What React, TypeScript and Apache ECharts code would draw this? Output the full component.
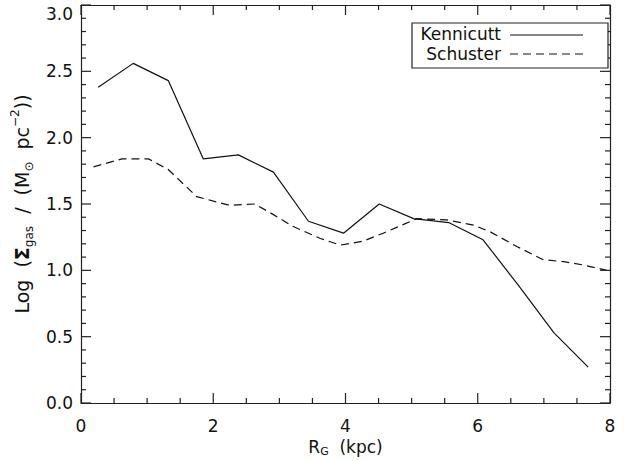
import React, { useEffect, useRef } from "react";
import * as echarts from "echarts";

const kennicuttX = [0.26, 0.79, 1.32, 1.85, 2.38, 2.91, 3.44, 3.97, 4.51, 5.03, 5.56, 6.08, 6.61, 7.15, 7.67];
const kennicuttY = [2.38, 2.56, 2.43, 1.84, 1.87, 1.74, 1.37, 1.28, 1.5, 1.39, 1.36, 1.23, 0.89, 0.53, 0.27];

const schusterX = [0.19, 0.62, 1.02, 1.32, 1.75, 2.25, 2.63, 2.91, 3.21, 3.62, 3.92, 4.27, 4.57, 5.08, 5.53, 5.94, 6.19, 6.59, 6.99, 7.3, 7.6, 7.95];
const schusterY = [1.78, 1.84, 1.84, 1.76, 1.555, 1.49, 1.5, 1.42, 1.33, 1.24, 1.19, 1.22, 1.28, 1.39, 1.38, 1.34, 1.29, 1.18, 1.08, 1.065, 1.04, 1.0];

const seriesNames = ["Kennicutt", "Schuster"];
const xTicks = [0, 2, 4, 6, 8];
const yTicks = [0, 0.5, 1, 1.5, 2, 2.5, 3];
const xMinorStep = 0.5;
const yMinorStep = 0.1;

const FONT = "DejaVu Sans";
const AX = "#222";

// frame tick marks: [value, kind] (0 = x major, 1 = x minor, 2 = y major, 3 = y minor)
function buildTickMarks() {
  const out: number[][] = [];
  const x0 = xTicks[0], x1 = xTicks[xTicks.length - 1];
  const y0 = yTicks[0], y1 = yTicks[yTicks.length - 1];
  const nx = Math.round((x1 - x0) / xMinorStep);
  for (let i = 0; i <= nx; i++) {
    const v = +(x0 + i * xMinorStep).toFixed(4);
    out.push([v, xTicks.includes(v) ? 0 : 1]);
  }
  const ny = Math.round((y1 - y0) / yMinorStep);
  for (let i = 0; i <= ny; i++) {
    const v = +(y0 + i * yMinorStep).toFixed(4);
    out.push([v, yTicks.some((t) => Math.abs(t - v) < 1e-6) ? 2 : 3]);
  }
  return out;
}

export default function App() {
  const ref = useRef<HTMLDivElement>(null);
  useEffect(() => {
    if (!ref.current) return;
    const chart = echarts.init(ref.current, null, { renderer: "svg" });
    const xMin = xTicks[0], xMax = xTicks[xTicks.length - 1];
    const yMin = yTicks[0], yMax = yTicks[yTicks.length - 1];
    const frame = {
      axisLine: { show: true, onZero: false, lineStyle: { color: AX, width: 1.2 } },
      splitLine: { show: false },
      minorSplitLine: { show: false },
      axisTick: { show: false },
      minorTick: { show: false },
    };
    const tickStyle = { stroke: AX, lineWidth: 1.2, fill: "none" };
    const option: any = {
      animation: false,
      backgroundColor: "#fff",
      grid: { left: 81, top: 5, right: 26, bottom: 58, outerBoundsMode: "none", containLabel: false },
      xAxis: [
        {
          type: "value",
          position: "bottom",
          min: xMin,
          max: xMax,
          interval: 2,
          ...frame,
          axisLabel: { fontFamily: FONT, fontSize: 17, color: "#111", margin: 14 },
          name: "{a|R}{sub|G}{a|  (kpc)}",
          nameLocation: "middle",
          nameGap: 33,
          nameTextStyle: {
            rich: {
              a: { fontFamily: FONT, fontSize: 17, color: "#111", lineHeight: 20, verticalAlign: "middle" },
              sub: { fontFamily: FONT, fontSize: 11, color: "#111", lineHeight: 20, verticalAlign: "bottom" },
            },
          },
        },
        {
          type: "value",
          position: "top",
          min: xMin,
          max: xMax,
          interval: 2,
          ...frame,
          axisLabel: { show: false },
        },
      ],
      yAxis: [
        {
          type: "value",
          position: "left",
          min: yMin,
          max: yMax,
          interval: 0.5,
          ...frame,
          axisLabel: {
            fontFamily: FONT,
            fontSize: 17,
            color: "#111",
            margin: 8,
            verticalAlignMaxLabel: "top",
            formatter: (v: number) => v.toFixed(1),
          },
          name: "{a|Log  (}{b|Σ}{sub|gas}{a|  /  (M}{sub|⊙}{a|  pc}{sup|−2}{a|))}",
          nameLocation: "middle",
          nameRotate: 90,
          nameGap: 30,
          nameTextStyle: {
            rich: {
              a: { fontFamily: FONT, fontSize: 19, color: "#111", lineHeight: 26, verticalAlign: "middle" },
              b: { fontFamily: FONT, fontSize: 19, fontWeight: "bold", color: "#111", lineHeight: 26, verticalAlign: "middle" },
              sub: { fontFamily: FONT, fontSize: 12, color: "#111", lineHeight: 26, verticalAlign: "bottom" },
              sup: { fontFamily: FONT, fontSize: 12, color: "#111", lineHeight: 26, verticalAlign: "top" },
            },
          },
        },
        {
          type: "value",
          position: "right",
          min: yMin,
          max: yMax,
          interval: 0.5,
          ...frame,
          axisLabel: { show: false },
        },
      ],
      series: [
        {
          name: seriesNames[0],
          type: "line",
          xAxisIndex: 0,
          yAxisIndex: 0,
          data: kennicuttX.map((x, i) => [x, kennicuttY[i]]),
          showSymbol: false,
          symbol: "none",
          lineStyle: { color: "#111", width: 1.2, type: "solid" },
        },
        {
          name: seriesNames[1],
          type: "line",
          xAxisIndex: 0,
          yAxisIndex: 0,
          data: schusterX.map((x, i) => [x, schusterY[i]]),
          showSymbol: false,
          symbol: "none",
          lineStyle: { color: "#111", width: 1.2, type: [8, 5] },
        },
        {
          name: "ticks",
          type: "custom",
          coordinateSystem: "cartesian2d",
          xAxisIndex: 0,
          yAxisIndex: 0,
          silent: true,
          clip: false,
          z: 5,
          data: buildTickMarks(),
          renderItem: (params: any, api: any) => {
            const v = api.value(0);
            const kind = api.value(1);
            if (kind < 2) {
              const len = kind === 0 ? 10 : 5;
              const b = api.coord([v, yMin]);
              const t = api.coord([v, yMax]);
              return {
                type: "group",
                children: [
                  { type: "line", shape: { x1: b[0], y1: b[1], x2: b[0], y2: b[1] - len }, style: tickStyle },
                  { type: "line", shape: { x1: t[0], y1: t[1], x2: t[0], y2: t[1] + len }, style: tickStyle },
                ],
              };
            }
            const len = kind === 2 ? 10 : 5;
            const l = api.coord([xMin, v]);
            const r = api.coord([xMax, v]);
            return {
              type: "group",
              children: [
                { type: "line", shape: { x1: l[0], y1: l[1], x2: l[0] + len, y2: l[1] }, style: tickStyle },
                { type: "line", shape: { x1: r[0], y1: r[1], x2: r[0] - len, y2: r[1] }, style: tickStyle },
              ],
            };
          },
        },
      ],
      graphic: [
        {
          type: "rect",
          shape: { x: 412, y: 23, width: 196, height: 45 },
          style: { fill: "#fff", stroke: "#222", lineWidth: 1.2 },
          z: 10,
        },
        {
          type: "text",
          x: 501,
          y: 34,
          style: { text: seriesNames[0], font: `17px "${FONT}"`, lineHeight: 15, fill: "#111", align: "right", verticalAlign: "middle" },
          z: 11,
        },
        {
          type: "text",
          x: 501,
          y: 54,
          style: { text: seriesNames[1], font: `17px "${FONT}"`, lineHeight: 15, fill: "#111", align: "right", verticalAlign: "middle" },
          z: 11,
        },
        {
          type: "line",
          shape: { x1: 510, y1: 35, x2: 583, y2: 35 },
          style: { stroke: "#111", lineWidth: 1.2 },
          z: 11,
        },
        {
          type: "line",
          shape: { x1: 510, y1: 54, x2: 583, y2: 54 },
          style: { stroke: "#111", lineWidth: 1.2, lineDash: [8, 5] },
          z: 11,
        },
      ],
    };
    chart.setOption(option);
    return () => chart.dispose();
  }, []);
  return (
    <div
      ref={ref}
      style={{ position: "absolute", left: 0, top: 0, width: 636, height: 461, background: "#fff" }}
    />
  );
}
